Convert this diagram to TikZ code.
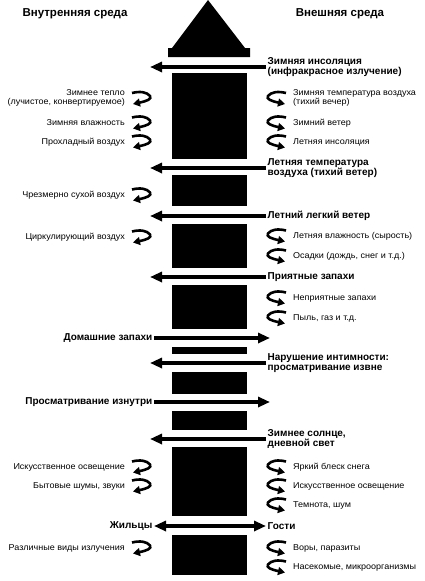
\documentclass[tikz,border=0pt]{standalone}
\usepackage{fontspec}
\setmainfont{Liberation Sans}
\newfontfamily\widesans[FakeStretch=1.06]{Liberation Sans}
\usetikzlibrary{arrows.meta, positioning, calc}

\begin{document}
\begin{tikzpicture}[
    x=1pt, y=-1pt,
    head/.style={font=\bfseries\fontsize{11.5}{13}\selectfont, inner sep=0pt},
    big/.style={font=\bfseries\fontsize{10}{10.5}\selectfont, align=left, inner sep=1.5pt},
    small/.style={font=\widesans\fontsize{8.5}{9}\selectfont, inner sep=0pt},
    wall/.style={fill=black},
    flow/.style={line width=3.5pt, -{Triangle[length=12pt,width=10pt]}},
    flow2/.style={line width=3.5pt, {Triangle[length=12pt,width=10pt]}-{Triangle[length=12pt,width=10pt]}},
    curlline/.style={line width=2.6pt, -{Triangle[length=7pt,width=8pt]}},
    curlin/.pic={\draw[curlline] (-10,-5) .. controls (-2,-7) and (5,-6) .. (8,-2)
                   .. controls (10,1) and (5,3) .. (-9,6);},
    curlout/.pic={\draw[curlline] (10,-5) .. controls (2,-7) and (-5,-6) .. (-8,-2)
                   .. controls (-10,1) and (-5,3) .. (9,6);}
  ]
  \useasboundingbox (0,0) rectangle (424,581);

  % headings
  \node[head] (inner) at (75,14) {Внутренняя среда};
  \node[head] (outer) at (340,14) {Внешняя среда};

  % the roof and the wall
  \fill (208,0) -- (245,48) -- (250,48) -- (250,57) -- (168,57) -- (168,48) -- (172,48) -- cycle;
  \foreach \ya/\yb in {73/159, 175/206, 224/268, 285/329, 347/354, 372/394, 411/430, 447/516, 535/575}
    \fill[wall] (172,\ya) rectangle (247,\yb);

  % ends of the flows
  \coordinate (lt) at (150,0);
  \coordinate (rt) at (270,0);

  % flows through the gaps
  \node[big, anchor=west] (zins) at (266,67) {Зимняя инсоляция\\(инфракрасное излучение)};
  \node[big, anchor=west] (ltemp) at (266,168) {Летняя температура\\воздуха (тихий ветер)};
  \node[big, anchor=west] (lwind) at (266,216) {Летний легкий ветер};
  \node[big, anchor=west] (smell) at (266,277) {Приятные запахи};
  \node[big, anchor=east] (home) at (154,338) {Домашние запахи};
  \node[big, anchor=west] (priv) at (266,363) {Нарушение интимности:\\просматривание извне};
  \node[big, anchor=east] (view) at (154,402) {Просматривание изнутри};
  \node[big, anchor=west] (zsun) at (266,439) {Зимнее солнце,\\дневной свет};
  \node[big, anchor=east] (res) at (154,526) {Жильцы};
  \node[big, anchor=west] (guest) at (266,526) {Гости};

  \foreach \n in {zins, ltemp, lwind, smell, priv, zsun}
    \draw[flow] (\n.west) -- (\n.west -| lt);
  \foreach \n in {home, view}
    \draw[flow] (\n.east) -- (\n.east -| rt);
  \draw[flow2] (res) -- (guest);

  % held inside
  \node[small, align=right, anchor=east] (in0) at (125,97.5) {Зимнее тепло\\(лучистое, конвертируемое)};
  \pic at (142,98) {curlin};
  \foreach \y/\t [count=\i] in {123/Зимняя влажность, 142/Прохладный воздух,
      195/Чрезмерно сухой воздух, 237/Циркулирующий воздух,
      467/Искусственное освещение, 486/{Бытовые шумы, звуки},
      548/Различные виды излучения} {
    \node[small, anchor=mid east] (in\i) at (125,\y) {\t};
    \pic at (142,\y-0.5) {curlin};
  }

  % kept outside
  \node[small, align=left, anchor=west] (out0) at (293,97.5) {Зимняя температура воздуха\\(тихий вечер)};
  \pic at (276,98) {curlout};
  \foreach \y/\t [count=\i] in {123/Зимний ветер, 142/Летняя инсоляция,
      236/Летняя влажность (сырость), 256/{Осадки (дождь, снег и т.д.)},
      298/Неприятные запахи, 318/{Пыль, газ и т.д.},
      467/Яркий блеск снега, 486/Искусственное освещение, 505/{Темнота, шум},
      548/{Воры, паразиты}, 567/{Насекомые, микроорганизмы}} {
    \node[small, anchor=mid west] (out\i) at (293,\y) {\t};
    \pic at (276,\y-0.5) {curlout};
  }
\end{tikzpicture}
\end{document}
